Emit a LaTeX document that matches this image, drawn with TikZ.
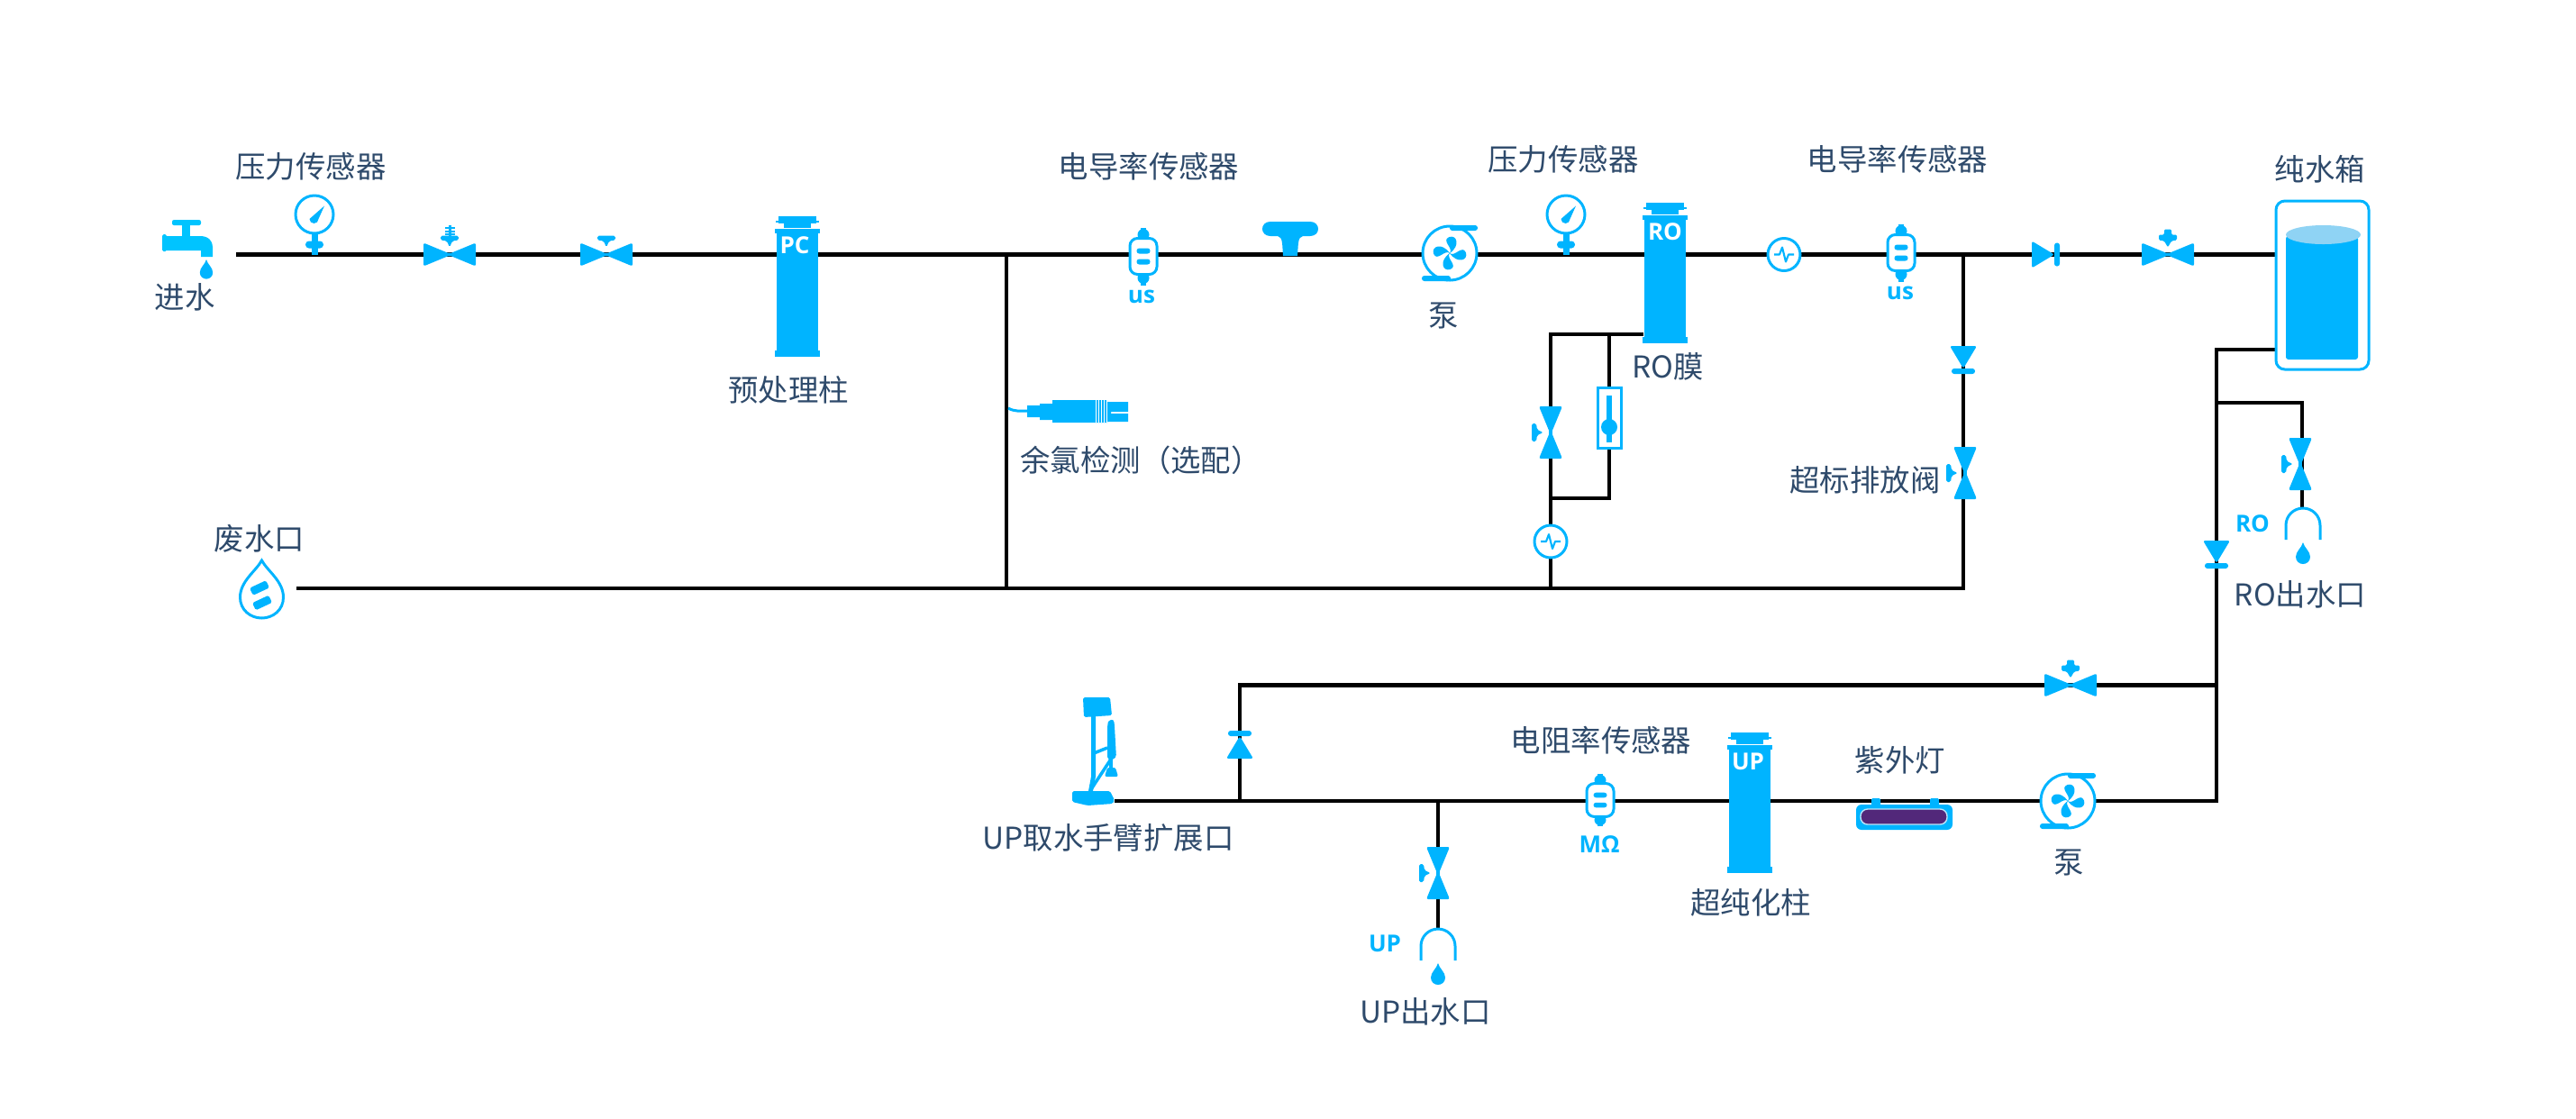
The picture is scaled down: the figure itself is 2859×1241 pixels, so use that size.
\documentclass[tikz,border=0pt]{standalone}
\usepackage{fontspec}
\setmainfont{Noto Sans CJK SC}
\newfontfamily\tagfont{Open Sans}
\definecolor{eqblue}{HTML}{00B4FF}
\definecolor{txtblue}{HTML}{2E4A6B}
\definecolor{tapblue}{HTML}{00C4FF}
\definecolor{skyblue}{HTML}{8FD3F4}
\definecolor{lamppurple}{HTML}{52287A}
\newcommand{\valvebody}{\fill [eq,rounded corners=0.6pt] (-29,-13) -- (0,-1) -- (29,-13) -- (29,13) -- (0,1) -- (-29,13) -- cycle;}
\begin{document}
\begin{tikzpicture}
    [
    x=0.01cm,y=-0.01cm,
    pipe/.style={line width=1.3pt,black},
    lbl/.style={text=txtblue,inner sep=0pt,font=\fontsize{9.5}{11}\selectfont},
    bluetag/.style={text=eqblue,inner sep=0pt,font=\tagfont\bfseries\fontsize{7.4}{9}\selectfont},
    coltag/.style={text=white,inner sep=0pt,font=\tagfont\bfseries\fontsize{7.4}{9}\selectfont},
    eq/.style={fill=eqblue,draw=none},
    ring/.style={draw=eqblue,line width=0.85pt,fill=white},
    pics/valvet/.style={code={
      \valvebody
      \fill [eq,rounded corners=0.5pt] (-10,-21) -- (10,-21) -- (10,-16) -- (3,-15) -- (0,-8) -- (-3,-15) -- (-10,-16) -- cycle;
    }},
    pics/valveplus/.style={code={
      \valvebody
      \fill [eq,rounded corners=0.4pt] (-4,-28) -- (4,-28) -- (4,-22) -- (10,-22) -- (10,-16) -- (4,-15) -- (0,-8) -- (-4,-15) -- (-10,-16) -- (-10,-22) -- (-4,-22) -- cycle;
    }},
    pics/valvegear/.style={code={
      \valvebody
      \fill [eq] (-1.5,-33) rectangle (1.5,-20);
      \foreach \y in {-31,-27,-24} \fill [eq] (-5.5,\y) rectangle (5.5,\y+2);
      \fill [eq,rounded corners=0.5pt] (-10,-21) -- (10,-21) -- (10,-16) -- (3,-15) -- (0,-8) -- (-3,-15) -- (-10,-16) -- cycle;
    }},
    pics/checkpic/.style={code={
      \fill [eq,rounded corners=0.7pt] (-25,-15) -- (0,0) -- (-25,15) -- cycle;
      \fill [eq,rounded corners=0.8pt] (0,-13) rectangle (6,13);
    }},
    pics/gaugepic/.style={code={
      \fill [eq] (-3.5,-25) rectangle (3.5,0);
      \fill [eq,rounded corners=1.1pt] (-10,-15) rectangle (10,-7);
      \draw [ring] (0,-44.5) circle (21);
      \fill [eq] (-5.5,-39.5) arc (180:0:5) -- (11,-54) -- cycle;
    }},
    pics/sensorpic/.style={code={
      \fill [eq] (-3,-32) rectangle (3,32);
      \fill [eq] (0,-24) circle (6.5);
      \fill [eq] (0,24) circle (6.5);
      \draw [ring,rounded corners=2.4pt] (-15,-20) rectangle (15,20);
      \fill [eq,rounded corners=0.8pt] (-7.5,-9) rectangle (7.5,-3);
      \fill [eq,rounded corners=0.8pt] (-7.5,3) rectangle (7.5,9);
    }},
    pics/pumppic/.style={code={
      \draw [ring] (0,0) circle (30);
      \fill [eq,rounded corners=0.8pt] (0,-31) rectangle (31,-25);
      \fill [eq,rounded corners=0.8pt] (-31,25) rectangle (1,31);
      \foreach \a in {15,105,195,285} {
        \fill [eq,rotate=\a] (0,0) .. controls (6,-4) and (-6,-16) .. (4,-17.5) .. controls (13,-18) and (14,-5) .. (0,0) -- cycle;
      }
    }},
    pics/pulsepic/.style={code={
      \draw [ring] (0,0) circle (18);
      \draw [eqblue,line width=0.6pt,line join=round] (-11,0) -- (-5,0) -- (-2,-8) -- (2,8) -- (5,0) -- (11,0);
    }},
    pics/droppic/.style={code={
      \fill [eq] (0,0) .. controls (1.5,6) and (8,10) .. (8,16) .. controls (8,21) and (4,24) .. (0,24) .. controls (-4,24) and (-8,21) .. (-8,16) .. controls (-8,10) and (-1.5,6) .. (0,0) -- cycle;
    }},
    pics/outletpic/.style={code={
      \draw [eqblue,line width=0.85pt,fill=none] (-19,35) -- (-19,19) arc (180:360:19) -- (19,35);
      \pic at (0,38) {droppic};
    }},
    pics/columnpic/.style={code={
      \fill [eq] (-21,-5) rectangle (21,3);
      \fill [eq] (-24,0) rectangle (24,2);
      \fill [eq] (-15,3) rectangle (15,8);
      \fill [eq] (-25,9) rectangle (25,14);
      \fill [eq] (-23,14) rectangle (23,144);
      \fill [eq] (-25,144) rectangle (25,151);
    }}
    ]
    \useasboundingbox (0,0) rectangle (2859,1241);

    % points on the pipes
    \coordinate (inlet) at (262,282.5);
    \coordinate (gauge1) at (349,282.5);
    \coordinate (gearv) at (499,282.5);
    \coordinate (handv) at (673,282.5);
    \coordinate (pc) at (885,282.5);
    \coordinate (tap1) at (1117,282.5);
    \coordinate (us1) at (1269,282.5);
    \coordinate (tee) at (1432,282.5);
    \coordinate (pump1) at (1609,282.5);
    \coordinate (gauge2) at (1738,282.5);
    \coordinate (ro) at (1848,282.5);
    \coordinate (pulse1) at (1980,282.5);
    \coordinate (us2) at (2110,282.5);
    \coordinate (tap2) at (2179,282.5);
    \coordinate (check1) at (2280,282.5);
    \coordinate (plusv1) at (2406,282.5);
    \coordinate (tankin) at (2525,282.5);
    \coordinate (waste) at (329,653);
    \coordinate (tap1b) at (1117,653);
    \coordinate (tap3) at (1721,653);
    \coordinate (tap2b) at (2179,653);
    \coordinate (roout) at (1824,371);
    \coordinate (rocorner) at (1721,371);
    \coordinate (tap4) at (1786,371);
    \coordinate (bypass) at (1721,480);
    \coordinate (pulse2) at (1721,601);
    \coordinate (flowtop) at (1786,430);
    \coordinate (flowbot) at (1786,498);
    \coordinate (flowend) at (1786,553);
    \coordinate (flowtap) at (1721,553);
    \coordinate (check2) at (2179,409);
    \coordinate (reject) at (2179,525);
    \coordinate (tankout) at (2525,388);
    \coordinate (tankcorner) at (2460,388);
    \coordinate (tap5) at (2460,447);
    \coordinate (check3) at (2460,625);
    \coordinate (tap6) at (2460,760.5);
    \coordinate (backcorner) at (2460,889);
    \coordinate (rocorner2) at (2555,447);
    \coordinate (rovalve) at (2555,515);
    \coordinate (rotap) at (2555,564);
    \coordinate (plusv2) at (2298,760.5);
    \coordinate (upcorner) at (1376,760.5);
    \coordinate (check4) at (1376,817);
    \coordinate (tap7) at (1376,889);
    \coordinate (pump2) at (2295,889);
    \coordinate (uvlamp) at (2113,889);
    \coordinate (up) at (1942,889);
    \coordinate (mohm) at (1776,889);
    \coordinate (tap8) at (1596,889);
    \coordinate (upvalve) at (1596,969);
    \coordinate (uptap) at (1596,1031);
    \coordinate (arm) at (1237,889);

    \draw [pipe] (inlet) -- (gauge1) -- (gearv) -- (handv) -- (pc) -- (tap1) -- (us1) -- (tee) -- (pump1) -- (gauge2) -- (ro) -- (pulse1) -- (us2) -- (tap2) -- (check1) -- (plusv1) -- (tankin);
    \draw [pipe] (tap1) -- (tap1b);
    \draw [pipe] (waste) -- (tap1b) -- (tap3) -- (tap2b) -- (reject) -- (check2) -- (tap2);
    \draw [pipe] (roout) -- (tap4) -- (rocorner) -- (bypass) -- (flowtap) -- (pulse2) -- (tap3);
    \draw [pipe] (tap4) -- (flowtop);
    \draw [pipe] (flowbot) -- (flowend) -- (flowtap);
    \draw [pipe] (tankout) -- (tankcorner) -- (tap5) -- (check3) -- (tap6) -- (backcorner) -- (pump2) -- (uvlamp) -- (up) -- (mohm) -- (tap8) -- (tap7) -- (arm);
    \draw [pipe] (tap5) -- (rocorner2) -- (rovalve) -- (rotap);
    \draw [pipe] (tap6) -- (plusv2) -- (upcorner) -- (check4) -- (tap7);
    \draw [pipe] (tap8) -- (upvalve) -- (uptap);

    % inlet tap
    \fill [tapblue,rounded corners=0.6pt] (191,244) rectangle (223,250);
    \fill [tapblue] (202,249) rectangle (211,262);
    \fill [tapblue,rounded corners=0.5pt] (180,260) rectangle (185,279);
    \fill [tapblue] (184,262) -- (222,262) .. controls (232,262) and (236,268) .. (236,274) -- (236,285) -- (223,285) -- (223,278) -- (184,278) -- cycle;
    \pic at (229,288) [scale=0.9] {droppic};

    \pic at (gauge1) {gaugepic};
    \pic at (gearv) {valvegear};
    \pic at (handv) {valvet};
    \pic at (885,245) {columnpic};
    \node (pctag) at (882,272) [coltag] {PC};
    \pic at (1269,284.5) {sensorpic};
    \node (ustag1) at (1267,329) [bluetag] {us};

    % tee fitting
    \fill [eq] (1410,246) -- (1454,246) .. controls (1466,246) and (1466,262) .. (1454,262) -- (1446,262) .. controls (1440,263) and (1441,272) .. (1440,284) -- (1424,284) .. controls (1423,272) and (1424,263) .. (1418,262) -- (1410,262) .. controls (1398,262) and (1398,246) .. (1410,246) -- cycle;

    \pic at (1609,281) {pumppic};
    \pic at (gauge2) {gaugepic};
    \pic at (1848,230) {columnpic};
    \node (rotag1) at (1848,257) [coltag] {RO};
    \pic at (pulse1) {pulsepic};
    \pic at (2110,280.5) {sensorpic};
    \node (ustag2) at (2109,325) [bluetag] {us};
    \pic at (check1) {checkpic};
    \pic at (plusv1) {valveplus};

    % tank
    \draw [ring,rounded corners=2.8pt] (2526,223) rectangle (2629,410);
    \fill [eq,rounded corners=0.8pt] (2537,262) rectangle (2617,399);
    \fill [skyblue] (2578.5,260.5) ellipse (41.5 and 10.5);

    \pic at (check2) [rotate=-90] {checkpic};
    \pic at (2181,525) [rotate=90] {valvet};

    \pic at (bypass) [rotate=90] {valvet};
    \pic at (pulse2) {pulsepic};

    % flow meter
    \draw [draw=eqblue,line width=0.85pt,fill=white] (1773.5,430.5) rectangle (1799.5,497);
    \fill [eq] (1783,439) rectangle (1789,491);
    \fill [eq] (1786,474) circle (9);

    % chlorine probe
    \draw [eqblue,line width=0.85pt] (1119,453) .. controls (1126,457) and (1132,456) .. (1140,456);
    \fill [eq] (1140,450) -- (1154,450) -- (1154,448) -- (1168,448) -- (1168,444) -- (1229,444) -- (1229,446) -- (1252,446) -- (1252,457) -- (1233,457) -- (1233,459) -- (1252,459) -- (1252,468) -- (1229,468) -- (1229,469) -- (1168,469) -- (1168,466) -- (1154,466) -- (1154,463) -- (1140,463) -- cycle;
    \foreach \x in {1216,1219,1222,1225,1228} \draw [white,line width=0.2pt] (\x,444) -- (\x,469);

    % waste drop
    \draw [ring] (290.5,622) .. controls (297,634) and (314.5,645) .. (314.5,663) .. controls (314.5,677) and (303,686) .. (290.5,686) .. controls (278,686) and (266.5,677) .. (266.5,663) .. controls (266.5,645) and (284,634) .. (290.5,622) -- cycle;
    \fill [eq,rounded corners=0.5pt,rotate around={25:(288,652.5)}] (278,648) rectangle (298,657);
    \fill [eq,rounded corners=0.5pt,rotate around={25:(291,669)}] (281,664.5) rectangle (301,673.5);

    \pic at (check3) [rotate=-90] {checkpic};
    \pic at (2553,515) [rotate=90] {valvet};
    \pic at (2556,564) {outletpic};
    \node (rotag2) at (2500,581) [bluetag] {RO};

    \pic at (plusv2) {valveplus};
    \pic at (check4) [rotate=90] {checkpic};
    \pic at (pump2) {pumppic};

    % uv lamp
    \fill [eq,rounded corners=0.4pt] (2077,886) rectangle (2087,895);
    \fill [eq,rounded corners=0.4pt] (2142,886) rectangle (2152,895);
    \fill [eq,rounded corners=1.7pt] (2060,893) rectangle (2167,921);
    \draw [draw=skyblue!60!white,line width=0.4pt,fill=lamppurple,rounded corners=2.2pt] (2065,898) rectangle (2161,915);

    \pic at (1942,818) {columnpic};
    \node (uptag1) at (1940,845) [coltag] {UP};
    \pic at (1776,888) [yscale=0.92] {sensorpic};
    \node (mohmtag) at (1775,937) [bluetag] {MΩ};
    \pic at (upvalve) [rotate=90] {valvet};
    \pic at (uptap) {outletpic};
    \node (uptag2) at (1537,1047) [bluetag] {UP};

    % sampling arm
    \fill [eq,rounded corners=0.5pt] (1202,774) -- (1232,774) -- (1234,794) -- (1203,796) -- cycle;
    \fill [eq] (1211,795) -- (1216,795) -- (1216,862) -- (1213,878) -- (1208,878) -- (1211,862) -- cycle;
    \fill [eq,rounded corners=1.2pt] (1229,806) .. controls (1230,800) and (1236,796) .. (1237,806) -- (1239,842) -- (1229,844) -- cycle;
    \draw [eqblue,line width=1pt] (1214,836) -- (1229,830);
    \draw [eqblue,line width=1pt] (1232,844) -- (1211,876);
    \fill [eq] (1231,843) rectangle (1235,853);
    \fill [eq,rounded corners=0.6pt] (1226,862) -- (1229,852) -- (1238,852) -- (1241,862) -- cycle;
    \fill [eq,rounded corners=0.5pt] (1190,878) -- (1232,878) -- (1237,888) -- (1235,892) -- (1207,894) -- (1190,890) -- cycle;

    \node (gauge1lbl) at (345,185) [lbl] {压力传感器};
    \node (inletlbl) at (205,330) [lbl] {进水};
    \node (pclbl) at (875,433) [lbl] {预处理柱};
    \node (us1lbl) at (1275,185) [lbl] {电导率传感器};
    \node (pump1lbl) at (1602,351) [lbl] {泵};
    \node (gauge2lbl) at (1735,177) [lbl] {压力传感器};
    \node (rolbl) at (1851,407) [lbl] {RO膜};
    \node (us2lbl) at (2106,177) [lbl] {电导率传感器};
    \node (tanklbl) at (2575,188) [lbl] {纯水箱};
    \node (chlorlbl) at (1266,511) [lbl] {余氯检测（选配）};
    \node (rejectlbl) at (2070,533) [lbl] {超标排放阀};
    \node (wastelbl) at (288,598) [lbl] {废水口};
    \node (rooutlbl) at (2553,660) [lbl] {RO出水口};
    \node (armlbl) at (1230,930) [lbl] {UP取水手臂扩展口};
    \node (mohmlbl) at (1777,822) [lbl] {电阻率传感器};
    \node (uplbl) at (1943,1002) [lbl] {超纯化柱};
    \node (uvlbl) at (2109,844) [lbl] {紫外灯};
    \node (pump2lbl) at (2296,958) [lbl] {泵};
    \node (upoutlbl) at (1582,1123) [lbl] {UP出水口};
\end{tikzpicture}
\end{document}
